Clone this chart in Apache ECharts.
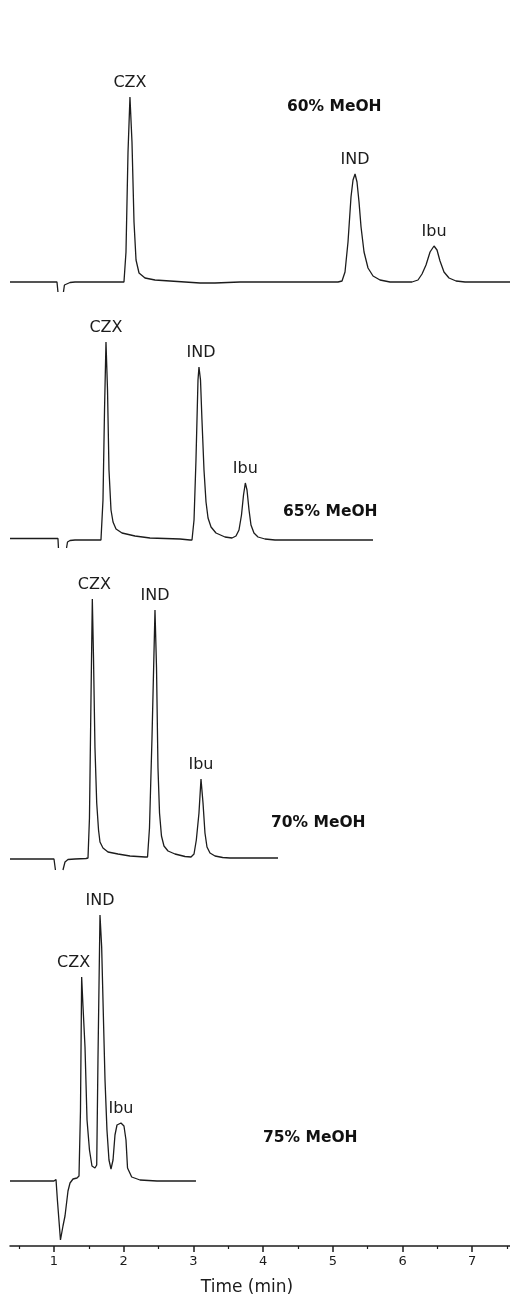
<!DOCTYPE html>
<html>
<head>
<meta charset="utf-8">
<script src="https://cdn.jsdelivr.net/npm/echarts@6/dist/echarts.min.js"></script>
<style>
  html, body { margin: 0; padding: 0; background: #ffffff; }
  #chart { width: 510px; height: 1301px; }
</style>
</head>
<body>
<div id="chart"></div>
<script>
// ---------------- DATA (time in min, detector response in arbitrary units above baseline) ----------------
// null = pen gap in the recorded trace
const trace60 = [
  [0.369,0],[1.000,0],[1.043,0],[1.057,-10],[1.100,null],[1.136,-10],[1.150,-3],[1.172,-1.5],[1.230,-0.5],[1.301,0],
  [2.004,0],[2.033,30],[2.062,130],[2.090,185],[2.119,140],[2.148,60],[2.177,22],[2.220,9],[2.306,4],[2.449,2],[2.664,1],[3.095,-1],[3.310,-1],[3.669,0],
  [5.075,0],[5.132,1],[5.175,10],[5.218,40],[5.261,85],[5.290,102],[5.319,108],[5.347,100],[5.376,80],[5.405,55],[5.448,30],[5.505,14],[5.577,6],[5.677,2],[5.821,0],
  [6.136,0],[6.222,2],[6.280,8],[6.337,17],[6.395,30],[6.452,36],[6.495,32],[6.538,21],[6.595,10],[6.667,4],[6.768,1],[6.897,0],[7.542,0]
];
const trace65 = [
  [0.369,1.5],[1.000,1.5],[1.057,1.5],[1.064,-8],[1.120,null],[1.180,-8],[1.194,-2],[1.230,-0.5],[1.301,0],
  [1.674,0],[1.703,40],[1.725,130],[1.746,198],[1.768,150],[1.789,70],[1.818,30],[1.847,18],[1.890,11],[1.976,7],[2.162,4],[2.377,2],[2.808,1],[2.951,0],
  [2.980,0],[3.009,20],[3.037,80],[3.066,160],[3.080,173],[3.102,160],[3.123,120],[3.152,70],[3.181,38],[3.210,22],[3.253,13],[3.324,7],[3.453,3],[3.554,2],
  [3.611,4],[3.654,10],[3.690,25],[3.719,45],[3.745,57],[3.769,50],[3.798,30],[3.826,15],[3.869,7],[3.927,3],[4.027,1],[4.171,0],[5.577,0]
];
const trace70 = [
  [0.369,-1],[1.000,-1],[1.014,-1],[1.021,-12],[1.080,null],[1.129,-12],[1.158,-4],[1.201,-1.5],[1.301,-1],[1.459,-0.5],
  [1.488,0],[1.509,40],[1.531,160],[1.550,259],[1.567,200],[1.588,110],[1.613,55],[1.639,28],[1.660,16],[1.703,10],[1.775,6],[1.918,4],[2.090,2],[2.306,1],
  [2.342,1],[2.370,30],[2.406,120],[2.449,248],[2.471,190],[2.492,90],[2.514,45],[2.542,22],[2.578,12],[2.636,7],[2.736,4],[2.880,1.5],[2.966,1],
  [3.009,4],[3.042,18],[3.080,45],[3.109,79],[3.138,55],[3.166,25],[3.195,11],[3.238,5],[3.310,2],[3.420,0.5],[3.525,0],[4.214,0]
];
const trace75 = [
  [0.369,0],[1.000,0],[1.029,1.5],[1.043,1],[1.050,-20],[1.093,-59],[1.129,-45],[1.158,-35],[1.201,-10],[1.230,-2],[1.273,2],[1.330,3],[1.359,5],
  [1.363,18],[1.380,70],[1.397,204],[1.416,175],[1.445,134],[1.474,61],[1.509,31],[1.545,15],[1.588,13],
  [1.613,16],[1.631,121],[1.660,266],[1.684,234],[1.710,161],[1.732,101],[1.760,51],[1.789,21],[1.818,12],
  [1.847,21],[1.875,46],[1.904,56],[1.961,58],[2.004,55],[2.033,41],[2.055,13],[2.115,4],[2.234,1],[2.478,0],[3.037,0]
];

// peak names and retention times (min)
const peaks60 = [['CZX',2.090],['IND',5.319],['Ibu',6.452]];
const peaks65 = [['CZX',1.746],['IND',3.080],['Ibu',3.745]];
const peaks70 = [['CZX',1.550],['IND',2.449],['Ibu',3.109]];
const peaks75 = [['CZX',1.397],['IND',1.660],['Ibu',1.961]];

const conditions = ['60% MeOH','65% MeOH','70% MeOH','75% MeOH'];
const tickLabels = [1,2,3,4,5,6,7];
const minorTicks = [0.5,1.5,2.5,3.5,4.5,5.5,6.5,7.5];

// ---------------- LAYOUT / STYLE ----------------
const X_MIN = 0.369, X_MAX = 7.542;
const panels = [
  {top: 80,  height: 220, yMin: -18, yMax: 202, data: trace60, peaks: peaks60, cond: {left: 287, top: 99}},
  {top: 330, height: 230, yMin: -20, yMax: 210, data: trace65, peaks: peaks65, cond: {left: 283, top: 504}},
  {top: 580, height: 300, yMin: -22, yMax: 278, data: trace70, peaks: peaks70, cond: {left: 271, top: 815}},
  {top: 890, height: 356, yMin: -65, yMax: 291, data: trace75, peaks: peaks75, cond: {left: 263, top: 1130}}
];
const labelOffsets = { '3-CZX': [-8, 0], '1-IND': [2, 0], '2-CZX': [2, 0] };
const FONT = 'DejaVu Sans';
const INK = '#1c1c1c';

function lookup(arr, t) {
  const p = arr.find(d => Math.abs(d[0] - t) < 1e-9);
  return p ? p[1] : 0;
}

const grid = [], xAxis = [], yAxis = [], series = [], graphic = [];
panels.forEach((p, i) => {
  grid.push({left: 10, right: 0, top: p.top, height: p.height});
  const isLast = i === panels.length - 1;
  xAxis.push({
    type: 'value', gridIndex: i, min: X_MIN, max: X_MAX, show: isLast,
    axisLine: {show: true, onZero: false, lineStyle: {color: INK, width: 1.5}},
    axisTick: {show: true, length: 6, customValues: tickLabels, lineStyle: {color: INK, width: 1.5}},
    axisLabel: {show: true, customValues: tickLabels, margin: 9, fontFamily: FONT, fontSize: 13, color: INK,
                formatter: v => String(v)},
    splitLine: {show: false},
    name: isLast ? 'Time (min)' : '', nameLocation: 'middle', nameGap: 33,
    nameTextStyle: {fontFamily: FONT, fontSize: 17, color: INK, padding: [0, 26, 0, 0]}
  });
  yAxis.push({type: 'value', gridIndex: i, min: p.yMin, max: p.yMax, show: false, splitLine: {show: false}});
  series.push({
    type: 'line', xAxisIndex: i, yAxisIndex: i,
    data: p.data.map(d => [d[0], d[1] === null ? '-' : d[1]]),
    showSymbol: false, smooth: false, connectNulls: false,
    lineStyle: {color: INK, width: 1.3},
    silent: true, animation: false,
    markPoint: {
      symbol: 'circle', symbolSize: 0, silent: true, animation: false,
      data: p.peaks.map(([name, t]) => ({
        coord: [t, lookup(p.data, t)], value: name,
        label: {offset: labelOffsets[i + '-' + name] || [0, 0]}
      })),
      label: {show: true, position: 'top', distance: 6, formatter: '{c}',
              fontFamily: FONT, fontSize: 16, color: INK}
    }
  });
  graphic.push({
    type: 'text', left: p.cond.left, top: p.cond.top,
    style: {text: conditions[i], fontFamily: FONT, fontWeight: 'bold', fontSize: 15.5, fill: '#111'}
  });
});

// minor (half-minute) ticks on the time axis
xAxis.push({
  type: 'value', gridIndex: 3, min: X_MIN, max: X_MAX, position: 'bottom',
  axisLine: {show: false, onZero: false},
  axisTick: {show: true, length: 3, customValues: minorTicks, lineStyle: {color: INK, width: 1.2}},
  axisLabel: {show: false}, splitLine: {show: false}
});

const chart = echarts.init(document.getElementById('chart'), null, {renderer: 'canvas'});
chart.setOption({
  backgroundColor: '#ffffff',
  animation: false,
  grid, xAxis, yAxis, series, graphic
});
</script>
</body>
</html>
